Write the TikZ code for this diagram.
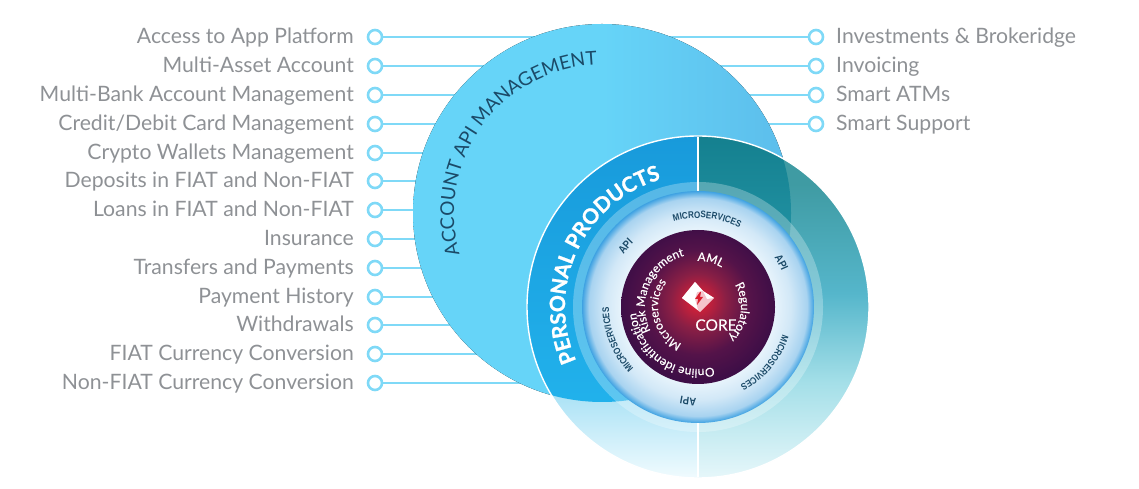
\documentclass[tikz,border=0pt]{standalone}
\usepackage{fontspec}
\setmainfont{Lato}
\newfontfamily\innerf[FakeStretch=0.85]{Liberation Sans}
\newfontfamily\ppf[BoldFeatures={FakeBold=1.2}]{Lato}
\newfontfamily\coref[FakeBold=0.4]{Lato}
\usetikzlibrary{decorations.text}
\definecolor{lbl}{HTML}{8E9195}
\definecolor{link}{HTML}{7FD9F7}
\definecolor{navy}{HTML}{1B4A68}
\definecolor{bigL}{HTML}{66D4F8}
\definecolor{bigR}{HTML}{5CBDEB}
\definecolor{dA}{HTML}{EAF5FC}\definecolor{dB}{HTML}{D2E8F7}\definecolor{dC}{HTML}{A8D3F0}\definecolor{dD}{HTML}{3FA2E2}
\definecolor{cA}{HTML}{E5202E}\definecolor{cB}{HTML}{C9203A}\definecolor{cC}{HTML}{8A1F45}\definecolor{cD}{HTML}{541349}\definecolor{cE}{HTML}{3E0E47}
\definecolor{tA}{HTML}{E6F7FA}\definecolor{tB}{HTML}{A4DFE8}\definecolor{tC}{HTML}{55B6CB}\definecolor{tD}{HTML}{3F9BA3}
\definecolor{tiA}{HTML}{2A9DB0}\definecolor{tiB}{HTML}{14808F}
\definecolor{pA}{HTML}{F0FBFE}\definecolor{pB}{HTML}{7FD2F0}
\definecolor{bA}{HTML}{24B8F0}\definecolor{bB}{HTML}{189ADB}
\definecolor{logoP}{HTML}{F5C4CC}\definecolor{logoR}{HTML}{D9202F}
\pgfdeclareradialshading{discshade}{\pgfpoint{0bp}{0bp}}{color(0bp)=(dA);color(16bp)=(dA);color(20bp)=(dB);color(23.5bp)=(dC);color(25bp)=(dD);color(50bp)=(dD)}
\pgfdeclareradialshading{coreshade}{\pgfpoint{0bp}{2.3bp}}{color(0bp)=(cA);color(3bp)=(cB);color(9bp)=(cC);color(17bp)=(cD);color(25bp)=(cE);color(50bp)=(cE)}
\pgfdeclareverticalshading{tealshade}{100bp}{color(0bp)=(tA);color(25bp)=(tA);color(39bp)=(tB);color(52bp)=(tC);color(68bp)=(tD);color(100bp)=(tD)}
\pgfdeclareverticalshading{tealin}{100bp}{color(0bp)=(tiA);color(50bp)=(tiA);color(75bp)=(tiB);color(100bp)=(tiB)}
\pgfdeclareverticalshading{paleshade}{100bp}{color(0bp)=(pA);color(25bp)=(pA);color(45bp)=(pB);color(100bp)=(pB)}
\pgfdeclareverticalshading{bandshade}{100bp}{color(0bp)=(bA);color(25bp)=(bA);color(75bp)=(bB);color(100bp)=(bB)}
\tikzset{
 x=1pt,y=1pt,
 dot/.style={circle,draw=link,line width=2.6pt,fill=white,minimum size=14pt,inner sep=0pt},
 lab/.style={font=\fontsize{21.2}{21.2}\selectfont,text=lbl,inner sep=0pt},
 wire/.style={draw=link,line width=2.6pt},
}
\newcommand{\arctext}[6]{% radius, start, end, center, color, text
 \path[decorate,decoration={text along path,text align=center,text color=#5,text={#6}}]
   (#4) ++(#2:#1) arc[start angle=#2,end angle=#3,radius=#1];}
\begin{document}
\begin{tikzpicture}
\useasboundingbox (0,0) rectangle (1139,489);
\coordinate (C) at (698,182);
\coordinate (B) at (602,276);
% connectors
\foreach \i/\t/\yy in {1/Access to App Platform/452,2/Multi-Asset Account/423,3/Multi-Bank Account Management/394,4/Credit\slash Debit Card Management/365,5/Crypto Wallets Management/336,6/Deposits in FIAT and Non-FIAT/308,7/Loans in FIAT and Non-FIAT/279,8/Insurance/250,9/Transfers and Payments/221,10/Payment History/192,11/Withdrawals/164,12/FIAT Currency Conversion/135,13/Non-FIAT Currency Conversion/106}{
  \node[dot] (L\i) at (375,\yy) {};
  \node[lab,anchor=base east] (LT\i) at (354,\yy-7) {\t};
  \coordinate (LE\i) at (602,\yy);
  \draw[wire] (L\i) -- (LE\i);
}
\foreach \i/\t/\yy in {1/Investments \& Brokeridge/452,2/Invoicing/423,3/Smart ATMs/394,4/Smart Support/365}{
  \node[dot] (R\i) at (816,\yy) {};
  \node[lab,anchor=base west] (RT\i) at (836,\yy-7) {\t};
  \coordinate (RE\i) at (602,\yy);
  \draw[wire] (R\i) -- (RE\i);
}
% big circle
\fill[left color=bigL,right color=bigR,middle color=bigL] (B) circle[radius=189];
% band, right half
\begin{scope}
 \clip (698,0) rectangle (900,489);
 \shade[shading=tealshade] (C) circle[radius=171];
 \clip (B) circle[radius=189];
 \shade[shading=tealin] (C) circle[radius=171];
\end{scope}
% band, left half
\begin{scope}
 \clip (500,0) rectangle (698,489);
 \shade[shading=paleshade] (C) circle[radius=171];
 \clip (B) circle[radius=189];
 \shade[shading=bandshade] (C) circle[radius=171];
\end{scope}
\draw[white,line width=1.4pt] (C) circle[radius=171];
\coordinate (VT) at (698,352);\coordinate (VB) at (698,12);
\draw[white,line width=1.4pt] (VT) -- (C) -- (VB);
% translucent ring
\fill[white,opacity=0.27] (C) circle[radius=125];
% disc and core
\shade[shading=discshade] (C) circle[radius=116];
\shade[shading=coreshade] (C) circle[radius=77];
% logo
\fill[logoP] (682,191) -- (695,207) -- (703,198) -- (714,191) -- (700,177) -- cycle;
\fill[white] (682,191) -- (695,207) -- (703,198) -- (697,197) -- (695,190) -- (698,179) -- cycle;
\fill[white] (703,198) -- (714,191) -- (707,190) -- cycle;
\fill[logoR] (700,197) -- (695,190) -- (698,190) -- (697,184) -- (703,192) -- (700,192) -- (701,197) -- cycle;
\node[font=\coref\fontsize{15.5}{15.5}\selectfont,text=white,inner sep=0pt] (core) at (716,164) {CORE};
% curved texts
\arctext{148}{214}{74}{B}{navy}{|\fontsize{19}{19}\selectfont|ACCOUNT API MANAGEMENT}
\arctext{133}{215}{95}{C}{white}{|\ppf\fontsize{21}{21}\selectfont\bfseries|PERSONAL PRODUCTS}
\def\ms{|\innerf\fontsize{9.5}{9.5}\selectfont\bfseries|}
\arctext{89}{114}{54}{C}{navy}{\ms MICROSERVICES}
\arctext{89}{-10}{-70}{C}{navy}{\ms MICROSERVICES}
\arctext{89}{232}{172}{C}{navy}{\ms MICROSERVICES}
\def\mt{|\innerf\fontsize{11}{11}\selectfont\bfseries|}
\arctext{91}{155}{125}{C}{navy}{\mt API}
\arctext{91}{43}{13}{C}{navy}{\mt API}
\arctext{91}{-81}{-111}{C}{navy}{\mt API}
\def\cs{|\coref\fontsize{12}{12}\selectfont|}
\arctext{46}{105}{45}{C}{white}{\cs AML}
\arctext{43}{63}{-77}{C}{white}{\cs Regulatory}
\arctext{62}{-50}{-200}{C}{white}{\cs Online identification}
\arctext{53}{226}{86}{C}{white}{\cs Risk Management}
\arctext{40}{269}{119}{C}{white}{\cs Microservices}
\end{tikzpicture}
\end{document}
